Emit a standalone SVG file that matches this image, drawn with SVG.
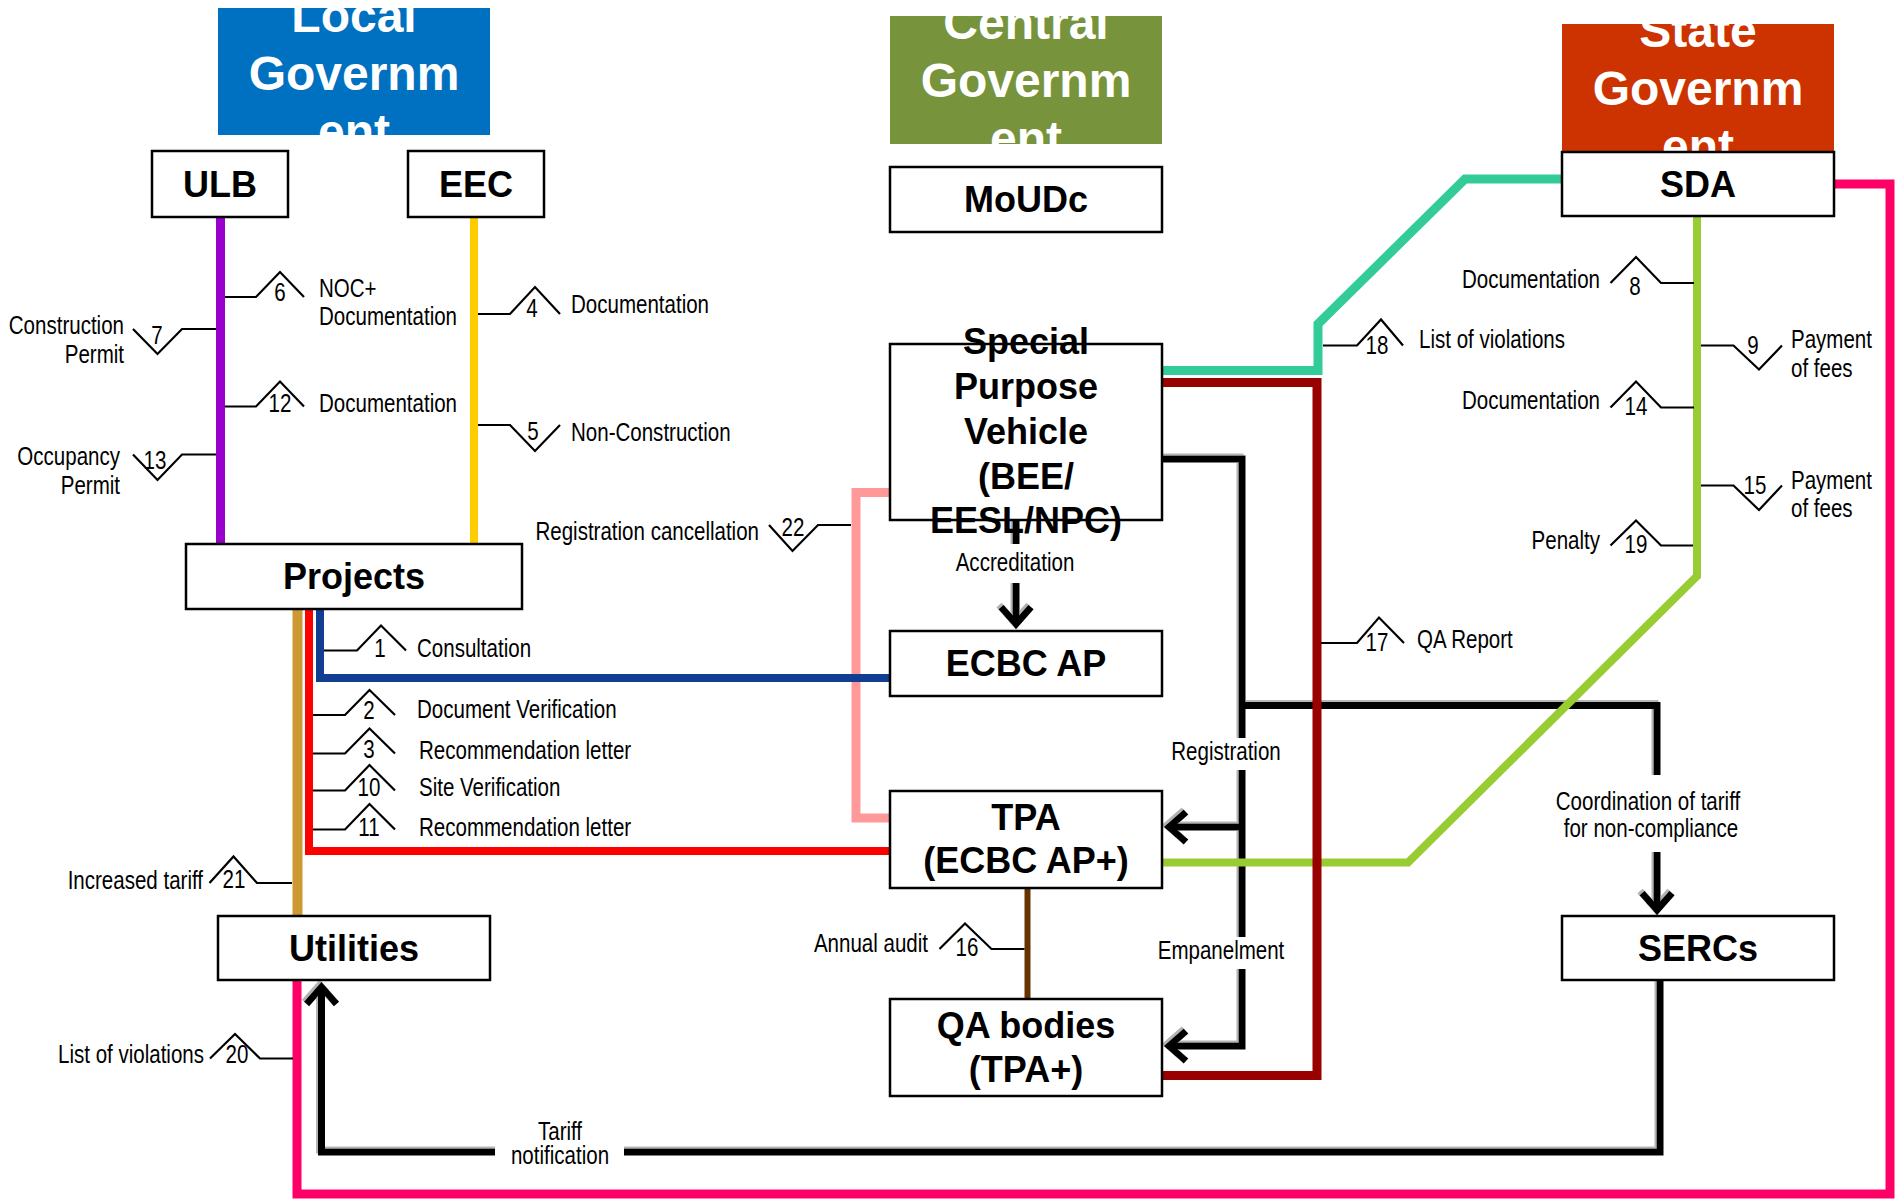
<svg xmlns="http://www.w3.org/2000/svg" width="1895" height="1199" viewBox="0 0 1895 1199">
  <style>
    .hdr { font-family: "Liberation Sans", Arial, sans-serif; font-weight: bold; font-size: 48px; fill: #fff; text-anchor: middle; }
    .box { fill: #fff; stroke: #000; stroke-width: 2.5; }
    .nt { font-family: "Liberation Sans", Arial, sans-serif; font-weight: bold; font-size: 36px; fill: #000; text-anchor: middle; }
    .ln { fill: none; stroke-linejoin: miter; stroke-linecap: butt; }
    .blk { fill: none; stroke: #000; stroke-width: 7; stroke-linejoin: miter; }
    .tick { fill: none; stroke: #000; stroke-width: 2.2; stroke-linejoin: miter; }
    .lbl { font-family: "Liberation Sans", Arial, sans-serif; font-size: 26px; fill: #000; }
    .mid { text-anchor: middle; }
    .end { text-anchor: end; }
    .bg { fill: #fff; }
  </style>
  <defs>
    <clipPath id="clipLocal"><rect x="218" y="8" width="272" height="127"/></clipPath>
    <clipPath id="clipCentral"><rect x="890" y="16" width="272" height="128"/></clipPath>
    <clipPath id="clipState"><rect x="1562" y="24" width="272" height="127"/></clipPath>
    <marker id="arrow" viewBox="0 0 30 34" refX="22" refY="17" markerWidth="30" markerHeight="34" markerUnits="userSpaceOnUse" orient="auto" overflow="visible">
      <path d="M5 2 L22 17 L5 32" fill="none" stroke="#000" stroke-width="7" stroke-linejoin="miter"/>
    </marker>
    <filter id="shadow" x="-5%" y="-5%" width="110%" height="110%">
      <feFlood flood-color="#b4b4b4"/>
      <feComposite in2="SourceAlpha" operator="in"/>
      <feOffset dx="-2.5" dy="-2.5"/>
      <feMerge><feMergeNode/><feMergeNode in="SourceGraphic"/></feMerge>
    </filter>
  </defs>

  <rect width="1895" height="1199" fill="#fff"/>

  <!-- Government tiers -->
  <g id="hdr-local">
    <rect x="218" y="8" width="272" height="127" fill="#0070C0"/>
    <g clip-path="url(#clipLocal)">
      <text class="hdr" x="354" y="32">Local</text>
      <text class="hdr" x="354" y="90">Governm</text>
      <text class="hdr" x="354" y="148">ent</text>
    </g>
  </g>
  <g id="hdr-central">
    <rect x="890" y="16" width="272" height="128" fill="#77933C"/>
    <g clip-path="url(#clipCentral)">
      <text class="hdr" x="1026" y="39">Central</text>
      <text class="hdr" x="1026" y="97">Governm</text>
      <text class="hdr" x="1026" y="155">ent</text>
    </g>
  </g>
  <g id="hdr-state">
    <rect x="1562" y="24" width="272" height="127" fill="#CC3300"/>
    <g clip-path="url(#clipState)">
      <text class="hdr" x="1698" y="47">State</text>
      <text class="hdr" x="1698" y="105">Governm</text>
      <text class="hdr" x="1698" y="163">ent</text>
    </g>
  </g>

  <!-- Connectors -->
  <g id="connectors">
    <path class="ln" d="M890 492.5 H856 V818 H890" stroke="#FF9999" stroke-width="9"/>
    <path class="ln" d="M320 609 V678 H890" stroke="#123E92" stroke-width="8"/>
    <path class="ln" d="M309 609 V851 H890" stroke="#FF0000" stroke-width="8"/>
    <path class="ln" d="M297.5 609 V916" stroke="#CC9933" stroke-width="10"/>
    <path class="ln" d="M220.5 217 V544" stroke="#9900CC" stroke-width="9"/>
    <path class="ln" d="M474 217 V544" stroke="#FFCC00" stroke-width="8"/>
    <path class="ln" d="M1834 184 H1890 V1194 H297 V980" stroke="#FF0066" stroke-width="9"/>
    <path class="ln" d="M1162 370.5 H1318 V324 L1465 179 H1562" stroke="#33CC99" stroke-width="9"/>
    <g filter="url(#shadow)">
      <path class="blk" d="M1016 520 V624" marker-end="url(#arrow)"/>
      <path class="blk" d="M1162 459 H1242 V1046 H1169" marker-end="url(#arrow)"/>
      <path class="blk" d="M1242 827 H1169" marker-end="url(#arrow)"/>
      <path class="blk" d="M1242 705.5 H1657 V910" marker-end="url(#arrow)"/>
      <path class="blk" d="M1660 980 V1152 H321.5 V987" marker-end="url(#arrow)"/>
    </g>
    <path class="ln" d="M1697 216 V576 L1408 862.5 H1162" stroke="#99CC33" stroke-width="8"/>
    <path class="ln" d="M1162 382.5 H1317 V1075.5 H1162" stroke="#990000" stroke-width="9"/>
    <path class="ln" d="M1027.5 888 V999" stroke="#663300" stroke-width="6"/>
  </g>

  <!-- Numbered flow markers -->
  <g id="ticks">
    <path class="tick" d="M225 297 H256 L280 272 L304 297"/>
    <path class="tick" d="M216 329 H182 L157.5 354 L133 329"/>
    <path class="tick" d="M225 406.5 H256 L280 381.5 L304 406.5"/>
    <path class="tick" d="M216 454.5 H182 L157.5 480 L133 454.5"/>
    <path class="tick" d="M478 314 H510 L535 287 L560 314"/>
    <path class="tick" d="M478 425 H510 L535 451 L560 425"/>
    <path class="tick" d="M851 525 H818 L792.5 551 L769 525"/>
    <path class="tick" d="M324 650.5 H357 L381 625.5 L406 650.5"/>
    <path class="tick" d="M313 715 H345 L369.5 690 L395 715"/>
    <path class="tick" d="M313 753.5 H345 L369.5 728.5 L395 753.5"/>
    <path class="tick" d="M313 790.5 H345 L369.5 765 L395 790.5"/>
    <path class="tick" d="M313 829.5 H345 L369.5 804 L395 829.5"/>
    <path class="tick" d="M292 883 H257 L233.5 856.5 L209.5 883"/>
    <path class="tick" d="M293 1058.5 H260 L235 1034 L210 1058.5"/>
    <path class="tick" d="M1024.5 949 H991.5 L965 923.5 L939.5 949"/>
    <path class="tick" d="M1321 643 H1357 L1379 617.5 L1404 643"/>
    <path class="tick" d="M1323 345.5 H1357 L1381 319.5 L1403 345.5"/>
    <path class="tick" d="M1694 283 H1661 L1636 257 L1610.5 283"/>
    <path class="tick" d="M1701 345.5 H1733.5 L1759 369.5 L1782 345.5"/>
    <path class="tick" d="M1694 407.5 H1661 L1636 381.5 L1610.5 407.5"/>
    <path class="tick" d="M1701 485.5 H1733.5 L1759 510 L1782 485.5"/>
    <path class="tick" d="M1693 545.5 H1661 L1636 520.5 L1610.5 545.5"/>
  </g>

  <!-- Step numbers -->
  <g id="numbers" class="lbl mid">
    <text transform="translate(280 301) scale(0.79 1)">6</text>
    <text transform="translate(157 344) scale(0.79 1)">7</text>
    <text transform="translate(280 412) scale(0.79 1)">12</text>
    <text transform="translate(155 469) scale(0.79 1)">13</text>
    <text transform="translate(532 317) scale(0.79 1)">4</text>
    <text transform="translate(533 440) scale(0.79 1)">5</text>
    <text transform="translate(793 536) scale(0.79 1)">22</text>
    <text transform="translate(380 657) scale(0.79 1)">1</text>
    <text transform="translate(369 719) scale(0.79 1)">2</text>
    <text transform="translate(369 758) scale(0.79 1)">3</text>
    <text transform="translate(369 796) scale(0.79 1)">10</text>
    <text transform="translate(369 836) scale(0.79 1)">11</text>
    <text transform="translate(234 888) scale(0.79 1)">21</text>
    <text transform="translate(237 1063) scale(0.79 1)">20</text>
    <text transform="translate(967 956) scale(0.79 1)">16</text>
    <text transform="translate(1377 651) scale(0.79 1)">17</text>
    <text transform="translate(1377 354) scale(0.79 1)">18</text>
    <text transform="translate(1635 295) scale(0.79 1)">8</text>
    <text transform="translate(1753 354) scale(0.79 1)">9</text>
    <text transform="translate(1636 415) scale(0.79 1)">14</text>
    <text transform="translate(1755 494) scale(0.79 1)">15</text>
    <text transform="translate(1636 553) scale(0.79 1)">19</text>
  </g>

  <!-- Flow labels -->
  <g id="labels" class="lbl">
    <text transform="translate(319 297) scale(0.79 1)">NOC+</text>
    <text transform="translate(319 325) scale(0.79 1)">Documentation</text>
    <text class="end" transform="translate(124 334) scale(0.79 1)">Construction</text>
    <text class="end" transform="translate(124 363) scale(0.79 1)">Permit</text>
    <text transform="translate(319 412) scale(0.79 1)">Documentation</text>
    <text class="end" transform="translate(120 465) scale(0.79 1)">Occupancy</text>
    <text class="end" transform="translate(120 494) scale(0.79 1)">Permit</text>
    <text transform="translate(571 313) scale(0.79 1)">Documentation</text>
    <text transform="translate(571 441) scale(0.79 1)">Non-Construction</text>
    <text class="end" transform="translate(759 540) scale(0.79 1)">Registration cancellation</text>
    <text transform="translate(417 657) scale(0.79 1)">Consultation</text>
    <text transform="translate(417 718) scale(0.79 1)">Document Verification</text>
    <text transform="translate(419 759) scale(0.79 1)">Recommendation letter</text>
    <text transform="translate(419 796) scale(0.79 1)">Site Verification</text>
    <text transform="translate(419 836) scale(0.79 1)">Recommendation letter</text>
    <text class="end" transform="translate(203 889) scale(0.79 1)">Increased tariff</text>
    <text class="end" transform="translate(204 1063) scale(0.79 1)">List of violations</text>
    <text class="end" transform="translate(928 952) scale(0.79 1)">Annual audit</text>
    <text transform="translate(1417 648) scale(0.79 1)">QA Report</text>
    <text transform="translate(1419 348) scale(0.79 1)">List of violations</text>
    <text class="end" transform="translate(1600 288) scale(0.79 1)">Documentation</text>
    <text transform="translate(1791 348) scale(0.79 1)">Payment</text>
    <text transform="translate(1791 377) scale(0.79 1)">of fees</text>
    <text class="end" transform="translate(1600 409) scale(0.79 1)">Documentation</text>
    <text transform="translate(1791 489) scale(0.79 1)">Payment</text>
    <text transform="translate(1791 517) scale(0.79 1)">of fees</text>
    <text class="end" transform="translate(1600 549) scale(0.79 1)">Penalty</text>

    <!-- labels sitting on the black connectors -->
    <rect class="bg" x="955" y="544" width="122" height="39"/>
    <text class="mid" transform="translate(1015 571) scale(0.79 1)">Accreditation</text>
    <rect class="bg" x="1170" y="738" width="112" height="32"/>
    <text class="mid" transform="translate(1226 760) scale(0.79 1)">Registration</text>
    <rect class="bg" x="1158" y="937" width="127" height="32"/>
    <text class="mid" transform="translate(1221 959) scale(0.79 1)">Empanelment</text>
    <rect class="bg" x="1552" y="775" width="193" height="77"/>
    <text class="mid" transform="translate(1648 810) scale(0.79 1)">Coordination of tariff</text>
    <text class="mid" transform="translate(1651 837) scale(0.79 1)">for non-compliance</text>
    <rect class="bg" x="495" y="1118" width="129" height="54"/>
    <text class="mid" transform="translate(560 1140) scale(0.79 1)">Tariff</text>
    <text class="mid" transform="translate(560 1164) scale(0.79 1)">notification</text>
  </g>

  <!-- Nodes -->
  <g id="node-ulb"><rect class="box" x="152" y="151" width="136" height="66"/><text class="nt" x="220" y="197">ULB</text></g>
  <g id="node-eec"><rect class="box" x="408" y="151" width="136" height="66"/><text class="nt" x="476" y="197">EEC</text></g>
  <g id="node-moudc"><rect class="box" x="890" y="167" width="272" height="65"/><text class="nt" x="1026" y="212">MoUDc</text></g>
  <g id="node-sda"><rect class="box" x="1562" y="152" width="272" height="64"/><text class="nt" x="1698" y="197">SDA</text></g>
  <g id="node-spv">
    <rect class="box" x="890" y="344" width="272" height="176"/>
    <text class="nt" x="1026" y="354">Special</text>
    <text class="nt" x="1026" y="399">Purpose</text>
    <text class="nt" x="1026" y="444">Vehicle</text>
    <text class="nt" x="1026" y="488.5">(BEE/</text>
    <text class="nt" x="1026" y="533">EESL/NPC)</text>
  </g>
  <g id="node-ecbc"><rect class="box" x="890" y="631" width="272" height="65"/><text class="nt" x="1026" y="676">ECBC AP</text></g>
  <g id="node-tpa">
    <rect class="box" x="890" y="791" width="272" height="97"/>
    <text class="nt" x="1026" y="830">TPA</text>
    <text class="nt" x="1026" y="873">(ECBC AP+)</text>
  </g>
  <g id="node-qa">
    <rect class="box" x="890" y="999" width="272" height="97"/>
    <text class="nt" x="1026" y="1038">QA bodies</text>
    <text class="nt" x="1026" y="1082">(TPA+)</text>
  </g>
  <g id="node-sercs"><rect class="box" x="1562" y="916" width="272" height="64"/><text class="nt" x="1698" y="961">SERCs</text></g>
  <g id="node-projects"><rect class="box" x="186" y="544" width="336" height="65"/><text class="nt" x="354" y="589">Projects</text></g>
  <g id="node-utilities"><rect class="box" x="218" y="916" width="272" height="64"/><text class="nt" x="354" y="961">Utilities</text></g>
</svg>
